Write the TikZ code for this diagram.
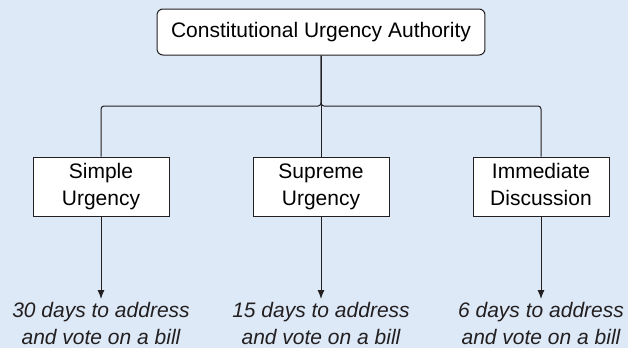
\documentclass[tikz,border=0pt]{standalone}
\usepackage{fontspec}
\setmainfont{Liberation Sans}
\usetikzlibrary{arrows.meta}
\definecolor{bgblue}{RGB}{221,233,247}
\definecolor{ink}{RGB}{35,31,32}
\tikzset{
  authority/.style={draw=ink, fill=white, rounded corners=6pt, line width=1pt,
    minimum height=46pt, inner xsep=14pt, font=\fontsize{21}{27}\selectfont},
  urgency/.style={draw=ink, fill=white, line width=1pt, minimum width=136pt,
    minimum height=59pt, inner sep=0pt, align=center, font=\fontsize{21}{27}\selectfont},
  deadline/.style={align=center, inner sep=0pt, text=ink,
    font=\fontsize{21}{27}\selectfont\itshape},
  link/.style={draw=ink, line width=1pt}
}
\begin{document}
\begin{tikzpicture}[x=1pt,y=-1pt]
  \fill[bgblue] (0,0) rectangle (628,348);
  \useasboundingbox (0,0) rectangle (628,348);
  \node[authority] (cua) at (321,32) {Constitutional Urgency Authority};
  \node[urgency] (simple) at (101,186.5) {Simple\strut\\Urgency\strut};
  \node[urgency] (supreme) at (321,186.5) {Supreme\strut\\Urgency\strut};
  \node[urgency] (immediate) at (541,186.5) {Immediate\strut\\Discussion\strut};
  \coordinate (bus) at (321,106);
  % branches from the top box
  \draw[link] (cua.south) -- (supreme.north);
  \draw[link, rounded corners=3pt] (cua.south) -- (bus) -| (simple.north);
  \draw[link, rounded corners=3pt] (cua.south) -- (bus) -| (immediate.north);
  % deadlines
  \node[deadline, anchor=north] (thirty) at (101,302) {30 days to address\\and vote on a bill};
  \node[deadline, anchor=north] (fifteen) at (321,302) {15 days to address\\and vote on a bill};
  \node[deadline, anchor=north] (six) at (541,302) {6 days to address\\and vote on a bill};
  \draw[link, -{Latex[length=9pt,width=7pt]}] (simple.south) -- ([yshift=3pt]thirty.north);
  \draw[link, -{Latex[length=9pt,width=7pt]}] (supreme.south) -- ([yshift=3pt]fifteen.north);
  \draw[link, -{Latex[length=9pt,width=7pt]}] (immediate.south) -- ([yshift=3pt]six.north);
\end{tikzpicture}
\end{document}
